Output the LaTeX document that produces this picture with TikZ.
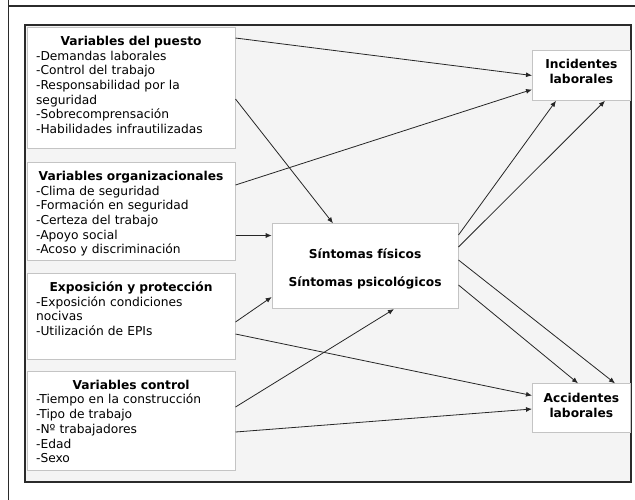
\documentclass[tikz,border=0pt]{standalone}
\usepackage{fontspec}
\setmainfont{DejaVu Sans}
\usepackage{xcolor}
\usepackage{tikz}
\usetikzlibrary{arrows.meta}

\definecolor{framegray}{HTML}{2B2B2B}
\definecolor{panelgray}{HTML}{F4F4F4}
\definecolor{boxgray}{HTML}{C4C4C4}
\definecolor{arrowgray}{HTML}{262626}

\tikzset{
    varbox/.style = {draw = boxgray, fill = white, line width = 0.8pt, anchor = north west,
        inner xsep = 9pt, inner ysep = 0pt, text width = 190pt, align = left, text height = 18.3pt,
        font = \fontsize{12.25}{14.7}\selectfont},
    outbox/.style = {draw = boxgray, fill = white, line width = 0.8pt, anchor = north west,
        inner sep = 0pt, text width = 98pt, align = center,
        font = \bfseries\fontsize{12.25}{15}\selectfont},
    link/.style = {draw = arrowgray, line width = 0.8pt, -{Latex[length=6pt, width=5pt]}}
}

\begin{document}
\begin{tikzpicture}[x = 1pt, y = -1pt]
    \useasboundingbox (0,0) rectangle (635,499);

    %frames
    \draw[framegray, line width = 1.7pt] (8.5,-2) -- (8.5,502);
    \draw[framegray, line width = 1.7pt] (8.5,6) -- (640,6);
    \draw[framegray, fill = panelgray, line width = 1.6pt] (25,25) rectangle (631,482);

    %boxes on the left
    \node[varbox, text depth = 103.3pt] (puesto) at (26.7,26.7)
        {\makebox[\linewidth]{\textbf{Variables del puesto}}\\
         -Demandas laborales\\
         -Control del trabajo\\
         -Responsabilidad por la\\
         seguridad\\
         -Sobrecomprensación\\
         -Habilidades infrautilizadas};
    \node[varbox, text depth = 80pt] (organiz) at (26.7,161.7)
        {\makebox[\linewidth]{\textbf{Variables organizacionales}}\\
         -Clima de seguridad\\
         -Formación en seguridad\\
         -Certeza del trabajo\\
         -Apoyo social\\
         -Acoso y discriminación};
    \node[varbox, text depth = 67.6pt] (exposic) at (26.7,272.7)
        {\makebox[\linewidth]{\textbf{Exposición y protección}}\\
         -Exposición condiciones\\
         nocivas\\
         -Utilización de EPIs};
    \node[varbox, text depth = 81pt] (control) at (26.7,370.5)
        {\makebox[\linewidth]{\textbf{Variables control}}\\
         -Tiempo en la construcción\\
         -Tipo de trabajo\\
         -Nº trabajadores\\
         -Edad\\
         -Sexo};

    %middle and right boxes
    \node[outbox, text width = 186pt, text height = 34.4pt, text depth = 50.6pt] (sintomas) at (271.7,223.3)
        {Síntomas físicos\\[13.3pt]Síntomas psicológicos};
    \node[outbox, text height = 18pt, text depth = 32pt] (incid) at (532,50)
        {Incidentes\\laborales};
    \node[outbox, text height = 19pt, text depth = 29.4pt] (accid) at (532,383.3)
        {Accidentes\\laborales};

    %arrows
    \draw[link] (puesto.east |- 0,38) -- (incid.west |- 0,75.5);
    \draw[link] (puesto.east |- 0,99) -- (sintomas.north -| 333,0);
    \draw[link] (organiz.east |- 0,185) -- (incid.west |- 0,89.5);
    \draw[link] (organiz.east |- 0,235.5) -- (sintomas.west |- 0,235.5);
    \draw[link] (exposic.east |- 0,322) -- (sintomas.west |- 0,297);
    \draw[link] (exposic.east |- 0,334) -- (accid.west |- 0,395.5);
    \draw[link] (control.east |- 0,407) -- (sintomas.south -| 394,0);
    \draw[link] (control.east |- 0,432) -- (accid.west |- 0,409);
    \draw[link] (sintomas.east |- 0,235) -- (incid.south -| 556,0);
    \draw[link] (sintomas.east |- 0,247) -- (incid.south -| 605,0);
    \draw[link] (sintomas.east |- 0,260) -- (accid.north -| 615,0);
    \draw[link] (sintomas.east |- 0,285) -- (accid.north -| 578,0);

\end{tikzpicture}
\end{document}
